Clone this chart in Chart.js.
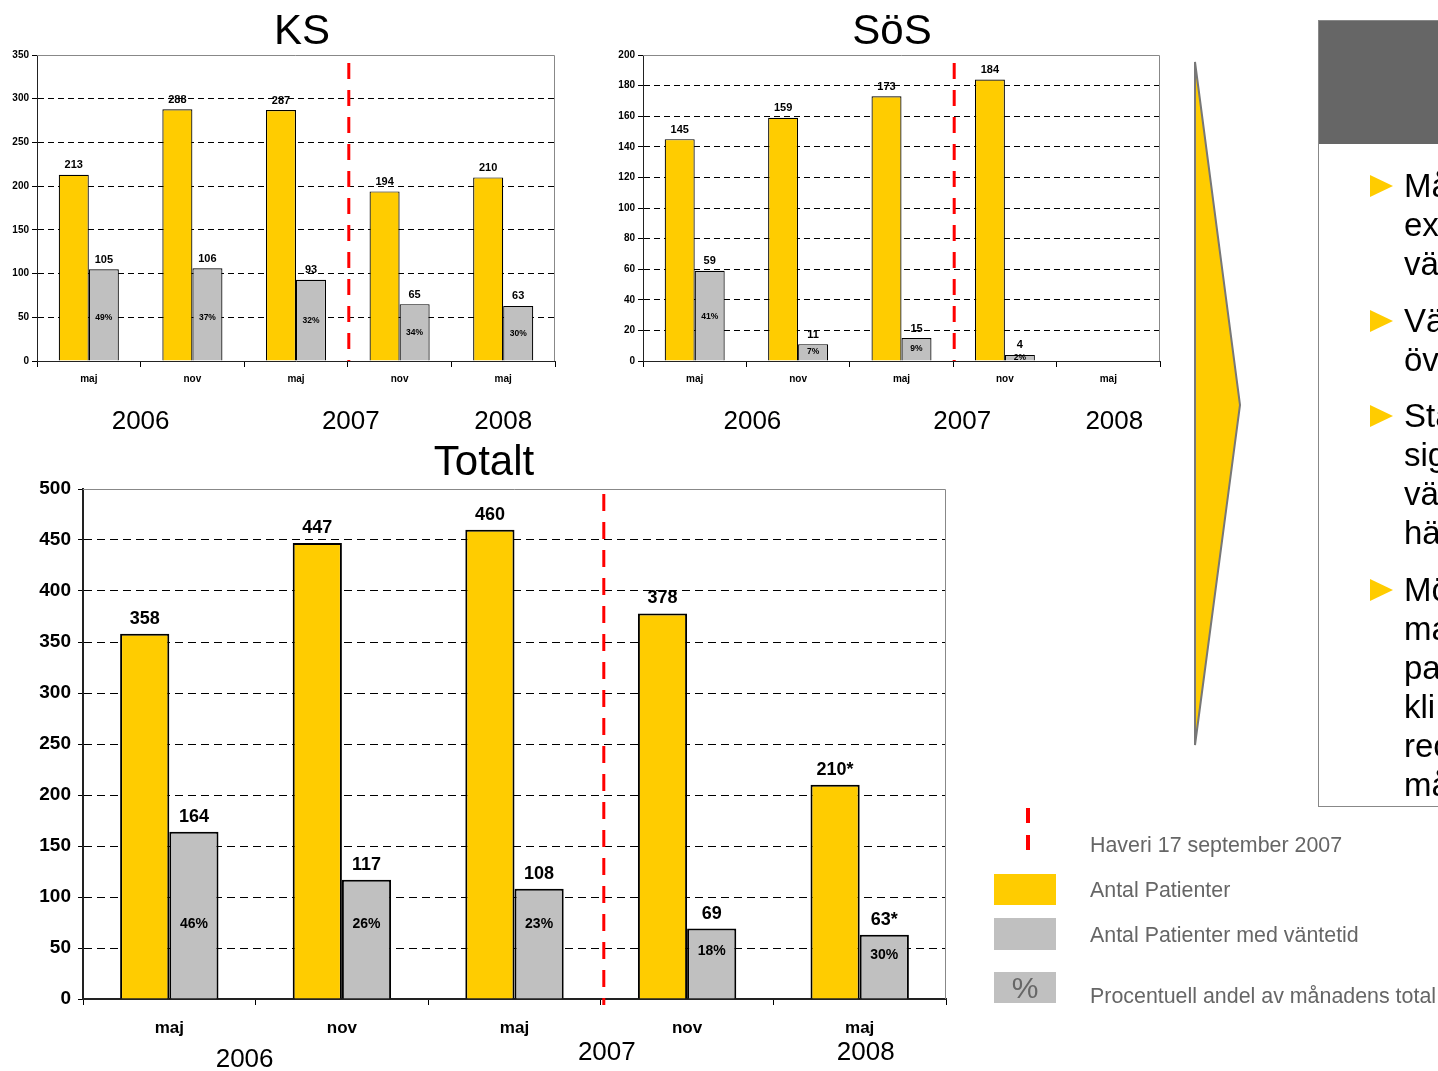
<!DOCTYPE html>
<html lang="sv">
<head>
<meta charset="utf-8">
<title>Antal patienter och väntetid – KS, SöS, Totalt</title>
<script src="https://cdn.jsdelivr.net/npm/chart.js@4.4.1/dist/chart.umd.min.js"></script>
<style>
  html, body { margin: 0; padding: 0; background: #fff; overflow: hidden; }
  body { width: 1438px; height: 1071px; position: relative; font-family: "Liberation Sans", Arial, sans-serif; }
  canvas { position: absolute; }
  .title { position: absolute; font-size: 42px; line-height: 42px; transform: translateX(-50%); color: #000; z-index: 2; }
  .lg-text { position: absolute; left: 1090px; font-size: 21.4px; line-height: 24px; color: #666; white-space: nowrap; }
  .sw { position: absolute; left: 994px; width: 62px; }
  .dash { position: absolute; left: 1026px; width: 4px; height: 15px; background: #f00; }
  #box { position: absolute; left: 1318px; top: 20px; width: 140px; height: 785px; border: 1px solid #888; overflow: hidden; }
  #box .head { height: 123px; background: #666; }
  .group { position: absolute; left: 1404px; font-size: 33px; line-height: 39px; color: #000; white-space: nowrap; }
</style>
</head>
<body>

<div class="title" style="left:302px;top:9px">KS</div>
<div class="title" style="left:892px;top:9px">SöS</div>
<div class="title" style="left:484px;top:440px">Totalt</div>

<canvas id="ks" width="575" height="410" style="left:0;top:40px"></canvas>
<canvas id="sos" width="580" height="410" style="left:600px;top:40px"></canvas>
<canvas id="tot" width="960" height="601" style="left:0;top:470px"></canvas>

<!-- arrow and summary box -->
<svg width="1438" height="1071" style="position:absolute;left:0;top:0;pointer-events:none">
  <polygon points="1195,62 1240,405 1195,745" fill="#FFCC00" stroke="#777" stroke-width="2"/>
  <polygon points="1370,175 1393,186 1370,197" fill="#FFCC00"/>
  <polygon points="1370,310 1393,321 1370,332" fill="#FFCC00"/>
  <polygon points="1370,405 1393,416 1370,427" fill="#FFCC00"/>
  <polygon points="1370,579 1393,590 1370,601" fill="#FFCC00"/>
</svg>
<div id="box"><div class="head"></div></div>
<div class="group" style="top:166px">Må<br>ex<br>vä</div>
<div class="group" style="top:301px">Vä<br>öv</div>
<div class="group" style="top:396px">Sta<br>sig<br>vä<br>hä</div>
<div class="group" style="top:570px">Mö<br>ma<br>pa<br>kli<br>rec<br>må</div>

<!-- legend -->
<div class="dash" style="top:808px"></div>
<div class="dash" style="top:835px"></div>
<div class="lg-text" style="top:833px">Haveri 17 september 2007</div>
<div class="sw" style="top:874px;height:31px;background:#FFCC00"></div>
<div class="lg-text" style="top:878px">Antal Patienter</div>
<div class="sw" style="top:918px;height:32px;background:#C0C0C0"></div>
<div class="lg-text" style="top:923px">Antal Patienter med väntetid</div>
<div class="sw" style="top:972px;height:31px;background:#C0C0C0;color:#666;font-size:30px;line-height:31px;text-align:center">%</div>
<div class="lg-text" style="top:984px">Procentuell andel av månadens total</div>

<script>
/* ---- Data ---- */
const months = ["maj", "nov", "maj", "nov", "maj"];
const years = ["2006", "2007", "2008"];
const yearAt = [0.5, 2.5, 4];      // category position under which each year is written
const haveriAt = 2.5;              // Haveri 17 september 2007, between maj and nov 2007

const ksPatients = [213, 288, 287, 194, 210];
const ksWaiting = [105, 106, 93, 65, 63];
const ksPct = ["49%", "37%", "32%", "34%", "30%"];

const sosPatients = [145, 159, 173, 184, null];
const sosWaiting = [59, 11, 15, 4, null];
const sosPct = ["41%", "7%", "9%", "2%", null];

const totPatients = [358, 447, 460, 378, 210];
const totWaiting = [164, 117, 108, 69, 63];
const totPct = ["46%", "26%", "23%", "18%", "30%"];
const totStar = [false, false, false, false, true];   // values marked with "*"

const YELLOW = "#FFCC00";
const GRAY = "#C0C0C0";
const FONT = '"Liberation Sans", Arial, sans-serif';

/* ---- Plugins ---- */
// pixel for a fractional category position
function catX(scale, pos) {
  const i = Math.floor(pos);
  const a = scale.getPixelForValue(i);
  const b = scale.getPixelForValue(i + 1);
  return a + (pos - i) * (b - a);
}

const plotFrame = {
  id: "plotFrame",
  beforeDatasetsDraw(chart) {
    const { ctx, chartArea: a } = chart;
    ctx.save();
    ctx.strokeStyle = "#888";
    ctx.lineWidth = 1;
    ctx.beginPath();
    ctx.moveTo(a.left, a.top + 0.5);
    ctx.lineTo(a.right - 0.5, a.top + 0.5);
    ctx.lineTo(a.right - 0.5, a.bottom);
    ctx.stroke();
    ctx.restore();
  }
};

const barNotes = {
  id: "barNotes",
  afterDatasetsDraw(chart, args, o) {
    const { ctx } = chart;
    const y = chart.scales.y;
    ctx.save();
    ctx.fillStyle = "#000";
    ctx.textAlign = "center";
    chart.data.datasets.forEach((ds, di) => {
      chart.getDatasetMeta(di).data.forEach((bar, i) => {
        const v = ds.data[i];
        if (v == null) return;
        ctx.font = o.valueFont;
        ctx.textBaseline = "bottom";
        ctx.fillText(v + (ds.star && ds.star[i] ? "*" : ""), bar.x, bar.y - o.valueGap);
        if (ds.pct && ds.pct[i]) {
          ctx.font = o.pctFont;
          ctx.textBaseline = "middle";
          ctx.fillText(ds.pct[i], bar.x, y.getPixelForValue(Math.min(o.pctCap, v * o.pctFrac)));
        }
      });
    });

    // Haveri line
    const x = catX(chart.scales.x, haveriAt) + o.haveriDx;
    ctx.strokeStyle = "#FF0000";
    ctx.lineWidth = 3;
    ctx.setLineDash(o.haveriDash);
    ctx.beginPath();
    ctx.moveTo(x, chart.chartArea.top + o.haveriTop);
    ctx.lineTo(x, chart.chartArea.bottom + o.haveriBottom);
    ctx.stroke();
    ctx.setLineDash([]);

    // years under the month labels
    ctx.font = o.yearFont;
    ctx.textBaseline = "middle";
    years.forEach((yr, i) => {
      ctx.fillText(yr, catX(chart.scales.x, yearAt[i]) + o.yearDx[i], chart.chartArea.bottom + o.yearDy[i]);
    });
    ctx.restore();
  }
};

/* ---- Chart factory ---- */
function makeChart(id, c) {
  return new Chart(document.getElementById(id), {
    type: "bar",
    data: {
      labels: months,
      datasets: [
        { label: "Antal Patienter", data: c.patients, star: c.star, backgroundColor: YELLOW,
          borderColor: "#000", borderWidth: c.barBorder },
        { label: "Antal Patienter med väntetid", data: c.waiting, star: c.star, pct: c.pct, backgroundColor: GRAY,
          borderColor: "#000", borderWidth: c.barBorder }
      ]
    },
    plugins: [plotFrame, barNotes],
    options: {
      responsive: false,
      animation: false,
      devicePixelRatio: 1,
      layout: { padding: c.padding },
      datasets: { bar: { categoryPercentage: c.catPct, barPercentage: 1 } },
      plugins: {
        legend: { display: false },
        tooltip: { enabled: false },
        barNotes: c.notes
      },
      scales: {
        x: {
          offset: true,
          grid: { display: true, offset: true, drawOnChartArea: false, drawTicks: true, tickLength: 6, color: "#000" },
          border: { display: true, color: "#222", width: c.axisWidth },
          ticks: { color: "#000", font: { family: FONT, size: c.xFont, weight: "bold" }, padding: c.xPad, maxRotation: 0 },
          afterFit: s => { s.height = c.xHeight; }
        },
        y: {
          min: 0, max: c.max,
          ticks: { stepSize: c.step, color: "#000", font: { family: FONT, size: c.yFont, weight: "bold" }, padding: c.yPad },
          grid: {
            color: ctx => ctx.tick && ctx.tick.value === c.max ? "rgba(0,0,0,0)" : "#000",
            lineWidth: 1, drawTicks: true, tickLength: 5, tickColor: "#000"
          },
          border: { display: true, color: "#222", width: c.axisWidth, dash: c.gridDash },
          afterFit: s => { s.width = c.yWidth; }
        }
      }
    }
  });
}

const smallNotes = {
  valueFont: "bold 11px " + FONT, valueGap: 4,
  pctFont: "bold 8.5px " + FONT,
  haveriDash: [16, 11], haveriTop: 8, haveriBottom: 0, haveriDx: 1,
  yearFont: "26px " + FONT, yearDy: [61, 61, 61]
};

makeChart("ks", {
  patients: ksPatients, waiting: ksWaiting, pct: ksPct,
  max: 350, step: 50, yWidth: 37, xHeight: 89,
  padding: { top: 15, right: 20, left: 0, bottom: 0 },
  catPct: 0.58, barBorder: 1.2, axisWidth: 1, gridDash: [6, 4],
  xFont: 10, yFont: 10, xPad: 6, yPad: 3,
  notes: Object.assign({}, smallNotes, { pctCap: 50, pctFrac: 0.5, yearDx: [0, 3, 0] })
});

makeChart("sos", {
  patients: sosPatients, waiting: sosWaiting, pct: sosPct,
  max: 200, step: 20, yWidth: 43, xHeight: 89,
  padding: { top: 15, right: 20, left: 0, bottom: 0 },
  catPct: 0.58, barBorder: 1.2, axisWidth: 1, gridDash: [6, 4],
  xFont: 10, yFont: 10, xPad: 6, yPad: 3,
  notes: Object.assign({}, smallNotes, { pctCap: 29, pctFrac: 0.55, yearDx: [6, 9, 6] })
});

makeChart("tot", {
  patients: totPatients, waiting: totWaiting, pct: totPct, star: totStar,
  max: 500, step: 50, yWidth: 83, xHeight: 72,
  padding: { top: 19, right: 14, left: 0, bottom: 0 },
  catPct: 0.57, barBorder: 2, axisWidth: 2, gridDash: [8, 5],
  xFont: 17, yFont: 19, xPad: 13, yPad: 7,
  notes: {
    valueFont: "bold 18px " + FONT, valueGap: 6,
    pctFont: "bold 14px " + FONT, pctCap: 73, pctFrac: 0.68,
    haveriDash: [17, 11], haveriTop: 5, haveriBottom: 6, haveriDx: 3,
    yearFont: "26px " + FONT, yearDx: [-11, 6, 6], yearDy: [61, 54, 54]
  }
});
</script>
</body>
</html>
